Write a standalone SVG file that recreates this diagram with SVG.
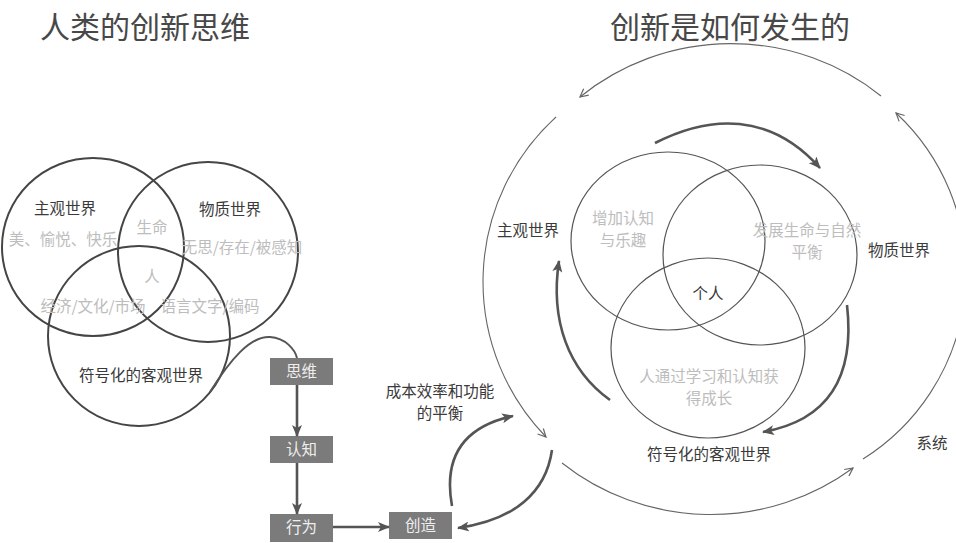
<svg xmlns="http://www.w3.org/2000/svg" width="956" height="543" viewBox="0 0 956 543">
<style>
text{font-family:"Noto Sans CJK SC","Noto Sans",sans-serif;text-anchor:middle}
.title{font-size:30px;fill:#484848}
.dk{font-size:15.5px;fill:#3a3a3a}
.lt{font-size:15.5px;fill:#bdbdbd}
.bx{font-size:15.5px;fill:#eeeeee}
.venL{fill:none;stroke:#454545;stroke-width:2}
.venR{fill:none;stroke:#555;stroke-width:1.2}
.box{fill:#7b7b7b}
.thick{fill:none;stroke:#555;stroke-width:2.6}
.thin{fill:none;stroke:#666;stroke-width:1.1}
</style>
<defs>
<marker id="ah" viewBox="0 0 12 10" refX="11" refY="5" markerWidth="12" markerHeight="10" markerUnits="userSpaceOnUse" orient="auto"><path d="M0,0 L12,5 L0,10 L3,5 z" fill="#555"/></marker>
<marker id="oa" viewBox="0 0 10 10" refX="9" refY="5" markerWidth="10" markerHeight="10" markerUnits="userSpaceOnUse" orient="auto"><path d="M1,1 L9,5 L1,9" fill="none" stroke="#666" stroke-width="1.2"/></marker>
</defs>
<rect width="956" height="543" fill="#ffffff"/>
<text class="title" x="145" y="38">人类的创新思维</text>
<text class="title" x="730" y="38">创新是如何发生的</text>

<g id="left-venn">
<ellipse class="venL" cx="93" cy="247" rx="91" ry="89"/>
<ellipse class="venL" cx="208" cy="252" rx="90" ry="90"/>
<ellipse class="venL" cx="139" cy="336" rx="91" ry="90"/>
<text class="dk" x="65" y="214">主观世界</text>
<text class="dk" x="230" y="215">物质世界</text>
<text class="lt" x="152" y="233">生命</text>
<text class="lt" x="63" y="245">美、愉悦、快乐</text>
<text class="lt" x="242" y="253">无思/存在/被感知</text>
<text class="lt" x="152" y="282">人</text>
<text class="lt" x="93" y="312">经济/文化/市场</text>
<text class="lt" x="210" y="312">语言文字/编码</text>
<text class="dk" x="141" y="381">符号化的客观世界</text>
</g>

<g id="node-siwei"><rect class="box" x="270" y="358" width="63" height="27"/><text class="bx" x="301.5" y="377">思维</text></g>
<g id="node-renzhi"><rect class="box" x="270" y="436" width="63" height="27"/><text class="bx" x="301.5" y="455">认知</text></g>
<g id="node-xingwei"><rect class="box" x="270" y="514" width="63" height="28"/><text class="bx" x="301.5" y="533">行为</text></g>
<g id="node-chuangzao"><rect class="box" x="389" y="512" width="63" height="27"/><text class="bx" x="420.5" y="531">创造</text></g>

<g id="label-balance">
<text class="dk" x="440" y="397">成本效率和功能</text>
<text class="dk" x="440" y="419">的平衡</text>
</g>

<g id="right-venn">
<ellipse class="venR" cx="668" cy="241" rx="97" ry="89"/>
<ellipse class="venR" cx="760" cy="255" rx="97" ry="90"/>
<ellipse class="venR" cx="708" cy="348" rx="97" ry="90"/>
<text class="lt" x="623" y="224">增加认知</text>
<text class="lt" x="623" y="246">与乐趣</text>
<text class="lt" x="807" y="236">发展生命与自然</text>
<text class="lt" x="807" y="258">平衡</text>
<text class="dk" x="708" y="299">个人</text>
<text class="lt" x="709" y="382">人通过学习和认知获</text>
<text class="lt" x="709" y="404">得成长</text>
<text class="dk" x="709" y="460">符号化的客观世界</text>
<text class="dk" x="528" y="236">主观世界</text>
<text class="dk" x="899" y="256">物质世界</text>
<text class="dk" x="932" y="449">系统</text>
</g>

<g id="connectors">
<path class="thick" d="M210,392 C230,360 250,336 270,337 C286,338 295,350 297,358" style="stroke-width:2"/>
<path class="thick" d="M297,385 L297,436" marker-end="url(#ah)"/>
<path class="thick" d="M297,463 L297,514" marker-end="url(#ah)"/>
<path class="thick" d="M333,527 L389,527" marker-end="url(#ah)"/>
<path class="thick" d="M452,506 C444,462 458,428 513,416" marker-end="url(#ah)"/>
<path class="thick" d="M552,450 C546,492 515,520 458,528" marker-end="url(#ah)"/>

<path class="thin" d="M881,96 A235,228 0 0 0 580,97" marker-end="url(#oa)"/>
<path class="thin" d="M556,117 A226,224 0 0 0 546,437" marker-end="url(#oa)"/>
<path class="thin" d="M562,463 A235,228 0 0 0 853,468" marker-end="url(#oa)"/>
<path class="thin" d="M863,459 A222,220 0 0 0 896,113" marker-end="url(#oa)"/>

<path class="thick" d="M655,143 C710,115 770,112 820,168" marker-end="url(#ah)"/>
<path class="thick" d="M610,400 C568,370 550,320 559,261" marker-end="url(#ah)"/>
<path class="thick" d="M847,305 C855,375 830,420 763,432" marker-end="url(#ah)"/>
</g>
</svg>
